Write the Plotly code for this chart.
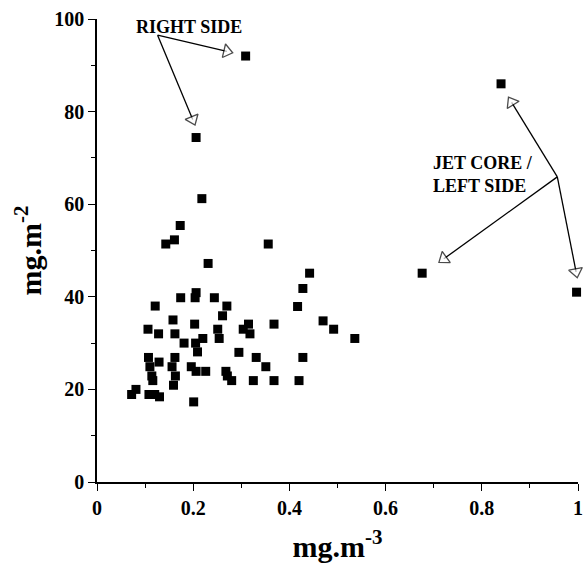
import plotly.graph_objects as go

# data (x: mg.m-3, y: mg.m-2)
x_vals = [0.309, 0.206, 0.218, 0.173, 0.161, 0.143, 0.356, 0.231, 0.442, 0.428,
          0.417, 0.121, 0.174, 0.204, 0.206, 0.244, 0.270, 0.261, 0.158, 0.203,
          0.106, 0.128, 0.162, 0.251, 0.254, 0.315, 0.304, 0.318, 0.368, 0.470,
          0.492, 0.536, 0.181, 0.220, 0.205, 0.209, 0.295, 0.107, 0.129, 0.162,
          0.331, 0.428, 0.110, 0.156, 0.196, 0.351, 0.114, 0.163, 0.206, 0.226,
          0.268, 0.271, 0.116, 0.159, 0.280, 0.325, 0.368, 0.420, 0.081, 0.072,
          0.108, 0.130, 0.120, 0.201, 0.840, 0.676, 0.997]
y_vals = [92.0, 74.4, 61.2, 55.4, 52.3, 51.4, 51.4, 47.2, 45.1, 41.8,
          37.9, 38.0, 39.8, 39.8, 40.9, 39.8, 38.0, 35.9, 35.0, 34.1,
          33.0, 32.0, 32.0, 33.0, 31.0, 34.1, 33.0, 32.0, 34.1, 34.8,
          33.0, 31.0, 30.0, 31.0, 30.0, 28.1, 28.0, 26.9, 25.9, 26.9,
          26.9, 26.9, 24.9, 24.9, 24.9, 24.9, 22.9, 22.9, 23.9, 23.9,
          23.9, 22.9, 21.9, 20.9, 21.9, 21.9, 21.9, 21.9, 20.0, 18.9,
          18.9, 18.4, 18.9, 17.3, 86.0, 45.1, 41.0]

x_ticks = [0, 0.2, 0.4, 0.6, 0.8, 1]
x_tick_labels = ["0", "0.2", "0.4", "0.6", "0.8", "1"]
y_ticks = [0, 20, 40, 60, 80, 100]
y_tick_labels = ["0", "20", "40", "60", "80", "100"]

# annotation arrows: origin -> head
right_origin = (0.126, 96.5)
right_heads = [(0.270, 93.0), (0.199, 78.3)]
jet_origin = (0.957, 65.9)
jet_heads = [(0.862, 82.0), (0.721, 48.2), (0.996, 45.4)]

FONT = "Liberation Serif"

fig = go.Figure()

ax, ay, sizes = [], [], []
for origin, heads in [(right_origin, right_heads), (jet_origin, jet_heads)]:
    for h in heads:
        ax += [origin[0], h[0], None]
        ay += [origin[1], h[1], None]
        sizes += [0, 12, 0]

fig.add_trace(go.Scatter(
    x=ax, y=ay, mode="lines+markers",
    line=dict(color="black", width=1.3),
    marker=dict(symbol="triangle-up", size=sizes, color="white",
                angleref="previous", line=dict(color="black", width=1.3)),
    cliponaxis=False, hoverinfo="skip", showlegend=False,
))

fig.add_trace(go.Scatter(
    x=x_vals, y=y_vals, mode="markers",
    marker=dict(symbol="square", size=9, color="black"),
    cliponaxis=False, showlegend=False,
))

fig.add_annotation(x=0.192, y=1.009, xref="x", yref="paper", text="<b>RIGHT SIDE</b>",
                   showarrow=False, font=dict(family=FONT, size=18, color="black"))
fig.add_annotation(x=0.695, y=66.5, xref="x", yref="y",
                   text="<b>JET CORE /<br>LEFT SIDE</b>", xanchor="left", align="left",
                   showarrow=False, font=dict(family=FONT, size=18, color="black"))

fig.update_layout(
    width=583, height=577,
    margin=dict(l=97, r=5, t=19, b=95),
    paper_bgcolor="white", plot_bgcolor="white",
    font=dict(family=FONT, color="black"),
)
fig.update_xaxes(
    range=[0, 1], tickvals=x_ticks, ticktext=x_tick_labels, ticklabeloverflow="allow",
    automargin=False,
    showgrid=False, zeroline=False, showline=True, linecolor="black", linewidth=1.5,
    ticks="outside", ticklen=7, tickwidth=1.3, tickcolor="black",
    minor=dict(tickvals=[0.1, 0.3, 0.5, 0.7, 0.9], ticks="outside", ticklen=4, tickcolor="black"),
    tickfont=dict(family=FONT, size=20, color="black", weight="bold"),
    title=dict(text="<b>mg.m<sup>-3</sup></b>", font=dict(family=FONT, size=30, color="black"), standoff=18),
)
fig.update_yaxes(
    range=[0, 100], tickvals=y_ticks, ticktext=y_tick_labels,
    automargin=False,
    showgrid=False, zeroline=False, showline=True, linecolor="black", linewidth=1.5,
    ticks="outside", ticklen=7, tickwidth=1.3, tickcolor="black",
    minor=dict(tickvals=[10, 30, 50, 70, 90], ticks="outside", ticklen=4, tickcolor="black"),
    tickfont=dict(family=FONT, size=20, color="black", weight="bold"),
    title=dict(text="<b>mg.m<sup>-2</sup></b>", font=dict(family=FONT, size=30, color="black"), standoff=4),
)

fig.write_html("out.html")
